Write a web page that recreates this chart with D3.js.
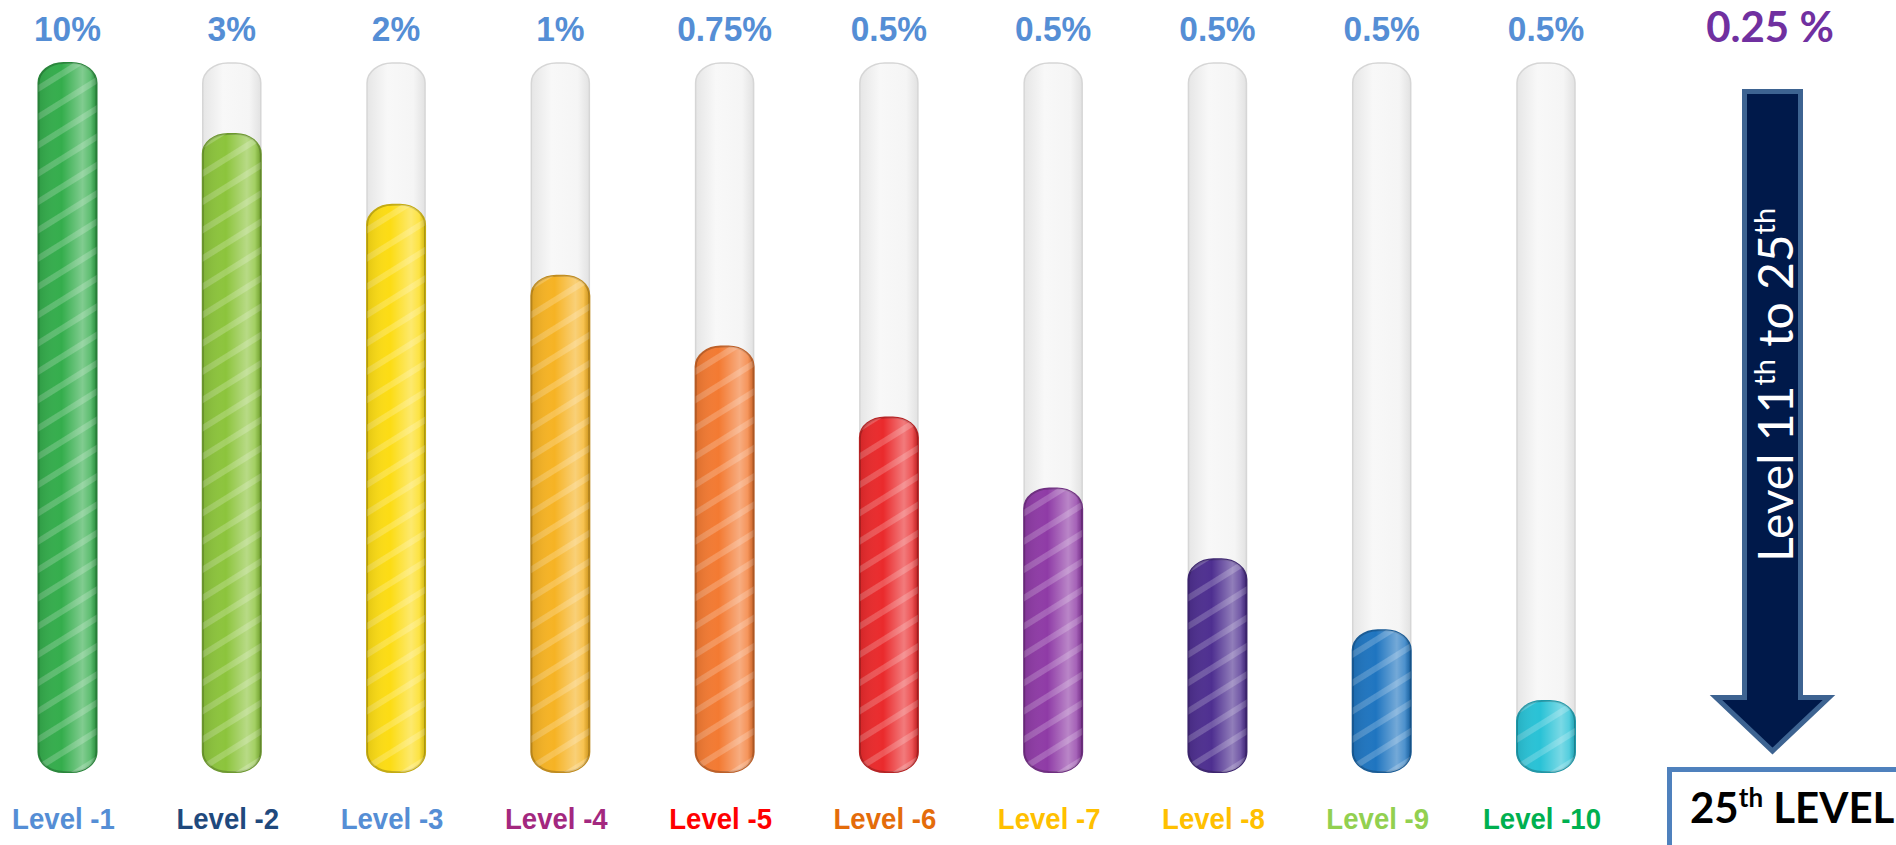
<!DOCTYPE html>
<html>
<head>
<meta charset="utf-8">
<script src="https://cdn.jsdelivr.net/npm/d3@7"></script>
<style>
  body { margin: 0; background: #fff; overflow: hidden; }
  svg { display: block; }
</style>
</head>
<body>
<svg></svg>
<script>
const width = 1896;
const height = 845;

// level names, payout rates and how full each tube is drawn
const levels = ['Level -1', 'Level -2', 'Level -3', 'Level -4', 'Level -5',
  'Level -6', 'Level -7', 'Level -8', 'Level -9', 'Level -10'];
const rates = ['10%', '3%', '2%', '1%', '0.75%', '0.5%', '0.5%', '0.5%', '0.5%', '0.5%'];
const fillLevels = [100, 90, 80, 70, 60, 50, 40, 30, 20, 10];
const fillColors = ['#34ad4c', '#8cc43c', '#fcdc14', '#f6b324', '#f37a32',
  '#ea2a2c', '#8f3ba6', '#4e2f90', '#1f75c0', '#29c2d6'];
const labelColors = ['#558ed5', '#1f497d', '#558ed5', '#a3287f', '#ff0000',
  '#e46c0a', '#ffc000', '#ffc000', '#92d050', '#00b050'];

const restRate = '0.25 %';

const svg = d3.select('svg')
  .attr('width', width)
  .attr('height', height);

const defs = svg.append('defs');

const x = d3.scalePoint()
  .domain(levels)
  .range([67.5, 1546]);

const y = d3.scaleLinear()
  .domain([0, 100])
  .range([772, 63]);

const tubeW = 58;

// glass tube gradient
const glass = defs.append('linearGradient').attr('id', 'glass');
glass.append('stop').attr('offset', '0%').attr('stop-color', '#e6e6e6');
glass.append('stop').attr('offset', '35%').attr('stop-color', '#f8f8f8');
glass.append('stop').attr('offset', '80%').attr('stop-color', '#f5f5f5');
glass.append('stop').attr('offset', '100%').attr('stop-color', '#e2e2e2');

// shine over the liquid
const shine = defs.append('linearGradient').attr('id', 'shine');
shine.append('stop').attr('offset', '0%').attr('stop-color', '#000').attr('stop-opacity', 0.1);
shine.append('stop').attr('offset', '40%').attr('stop-color', '#fff').attr('stop-opacity', 0);
shine.append('stop').attr('offset', '76%').attr('stop-color', '#fff').attr('stop-opacity', 0.38);
shine.append('stop').attr('offset', '90%').attr('stop-color', '#fff').attr('stop-opacity', 0.2);
shine.append('stop').attr('offset', '100%').attr('stop-color', '#000').attr('stop-opacity', 0.15);

// diagonal stripes
const stripes = defs.append('pattern')
  .attr('id', 'stripes')
  .attr('patternUnits', 'userSpaceOnUse')
  .attr('width', 24)
  .attr('height', 24)
  .attr('patternTransform', 'rotate(-32)');
stripes.append('rect')
  .attr('width', 24).attr('height', 6)
  .attr('fill', '#fff').attr('fill-opacity', 0.2);

const tubes = svg.append('g').selectAll('g')
  .data(levels)
  .join('g')
  .attr('transform', d => `translate(${x(d) - tubeW / 2},0)`);

tubes.append('rect')
  .attr('y', y(100))
  .attr('width', tubeW)
  .attr('height', y(0) - y(100))
  .attr('rx', 25).attr('ry', 20)
  .attr('fill', 'url(#glass)')
  .attr('stroke', '#d6d6d6')
  .attr('stroke-width', 1.5);

const liquid = (sel) => sel
  .attr('y', (d, i) => y(fillLevels[i]))
  .attr('width', tubeW)
  .attr('height', (d, i) => y(0) - y(fillLevels[i]))
  .attr('rx', 25).attr('ry', 20);

tubes.append('rect').call(liquid)
  .attr('fill', (d, i) => fillColors[i])
  .attr('stroke', (d, i) => d3.color(fillColors[i]).darker(0.7))
  .attr('stroke-width', 2);
tubes.append('rect').call(liquid).attr('fill', 'url(#stripes)');
tubes.append('rect').call(liquid).attr('fill', 'url(#shine)');

// rates above
svg.append('g').selectAll('text')
  .data(levels)
  .join('text')
  .attr('transform', d => `translate(${x(d)},41) scale(0.93,1)`)
  .attr('text-anchor', 'middle')
  .attr('font-family', 'Liberation Sans, Arial, sans-serif')
  .attr('font-weight', 'bold')
  .attr('font-size', 36)
  .attr('fill', '#558ed5')
  .text((d, i) => rates[i]);

// level names below
svg.append('g').selectAll('text')
  .data(levels)
  .join('text')
  .attr('transform', d => `translate(${x(d) - 4},829) scale(0.92,1)`)
  .attr('text-anchor', 'middle')
  .attr('font-family', 'Liberation Sans, Arial, sans-serif')
  .attr('font-weight', 'bold')
  .attr('font-size', 30)
  .attr('fill', (d, i) => labelColors[i])
  .text(d => d);

// right side: levels 11 to 25
const side = svg.append('g');

side.append('text')
  .attr('x', 1770).attr('y', 42)
  .attr('text-anchor', 'middle')
  .attr('font-family', 'Lato, sans-serif')
  .attr('font-weight', 'bold')
  .attr('font-size', 42)
  .attr('fill', '#7030a0')
  .text(restRate);

side.append('path')
  .attr('d', 'M1744.5,91.5 H1800.5 V697.5 H1829 L1772.5,751 L1716,697.5 H1744.5 Z')
  .attr('fill', '#00194a')
  .attr('stroke', '#3d6391')
  .attr('stroke-width', 5);

const arrowText = side.append('text')
  .attr('transform', 'translate(1793,562) rotate(-90)')
  .attr('font-family', 'Lato, sans-serif')
  .attr('font-size', 48)
  .attr('fill', '#fff');
arrowText.append('tspan').text('Level 11');
arrowText.append('tspan').attr('font-size', 29).attr('dy', -18).text('th');
arrowText.append('tspan').attr('dy', 18).text(' to 25');
arrowText.append('tspan').attr('font-size', 29).attr('dy', -18).text('th');

side.append('rect')
  .attr('x', 1669.5).attr('y', 769.5)
  .attr('width', 240).attr('height', 90)
  .attr('fill', '#fff')
  .attr('stroke', '#4f81bd')
  .attr('stroke-width', 5);

const boxText = side.append('text')
  .attr('x', 1690).attr('y', 823)
  .attr('font-family', 'Lato, sans-serif')
  .attr('font-weight', 'bold')
  .attr('font-size', 42)
  .attr('fill', '#000');
boxText.append('tspan').text('25');
boxText.append('tspan').attr('font-size', 26).attr('dy', -16).text('th');
boxText.append('tspan').attr('dy', 16).text(' LEVEL');
</script>
</body>
</html>
